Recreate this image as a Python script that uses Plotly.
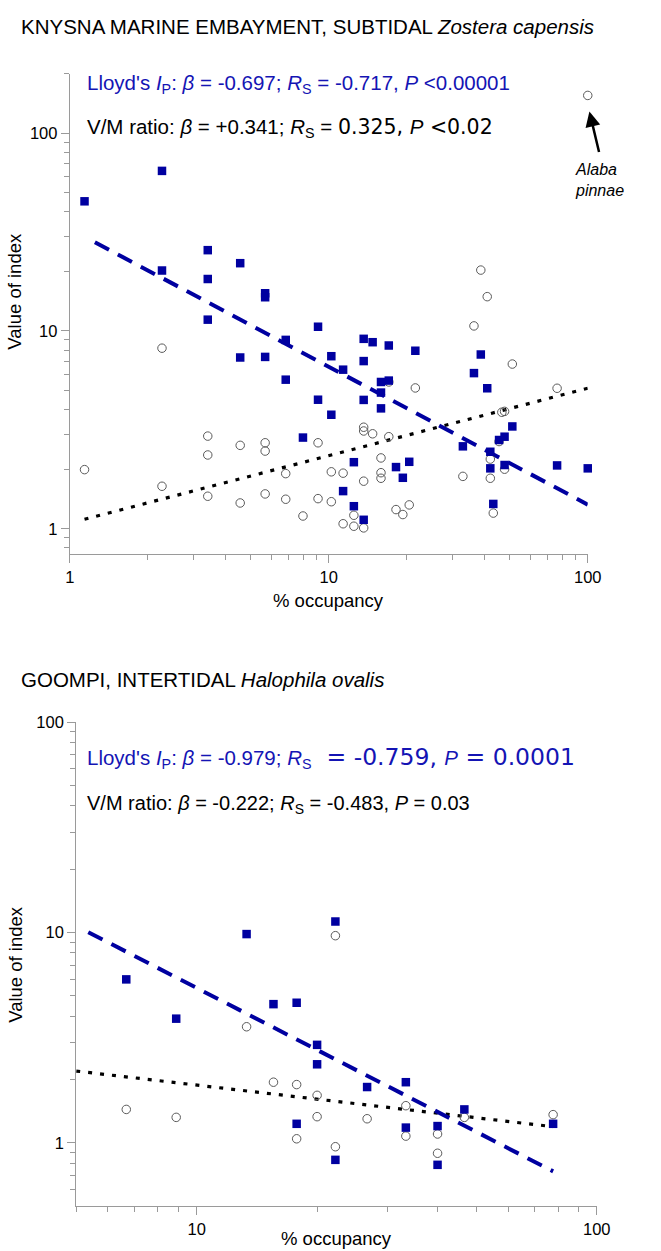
import numpy as np
import plotly.graph_objects as go

# ---------------- Knysna, subtidal Zostera capensis ----------------
kn_ip_x = [1.14, 2.27, 2.27, 3.41, 3.41, 3.41, 4.55, 4.55, 5.68, 5.68, 5.68,
           6.82, 6.82, 7.95, 9.09, 9.09, 10.23, 10.23, 11.36, 11.36, 12.5, 12.5,
           13.64, 13.64, 13.64, 13.64, 14.77, 15.91, 15.91, 15.91, 17.05, 17.05,
           18.18, 19.32, 20.45, 21.59, 32.95, 36.36, 38.64, 40.91, 42.05, 42.05,
           43.18, 45.45, 47.73, 47.73, 51.14, 76.14, 100.0]
kn_ip_y = [45.2, 64.4, 20.2, 25.6, 18.3, 11.4, 22.0, 7.34, 15.5, 14.8, 7.39,
           9.01, 5.67, 2.89, 10.5, 4.49, 7.45, 3.77, 6.37, 1.55, 2.17, 1.30,
           9.12, 7.04, 4.48, 1.11, 8.77, 5.52, 4.88, 4.06, 8.44, 5.61,
           2.05, 1.81, 2.18, 7.94, 2.61, 6.12, 7.60, 5.13, 2.45, 2.02,
           1.335, 2.81, 2.92, 2.10, 3.29, 2.09, 2.02]

kn_vm_x = [1.14, 2.27, 2.27, 3.41, 3.41, 3.41, 4.55, 4.55, 5.68, 5.68, 5.68,
           6.82, 6.82, 7.95, 9.09, 9.09, 10.23, 10.23, 11.36, 11.36, 12.5, 12.5,
           13.64, 13.64, 13.64, 13.64, 14.77, 15.91, 15.91, 15.91, 17.05, 17.05,
           18.18, 19.32, 20.45, 21.59, 32.95, 36.36, 38.64, 40.91, 42.05, 42.05,
           43.18, 45.45, 46.59, 47.73, 47.73, 51.14, 76.14, 100.0]
kn_vm_y = [1.99, 8.18, 1.64, 2.94, 2.36, 1.46, 2.64, 1.35, 2.72, 2.47, 1.50,
           1.90, 1.41, 1.16, 2.72, 1.42, 1.94, 1.37, 1.91, 1.06, 1.17, 1.03,
           3.26, 3.12, 1.74, 1.01, 3.02, 2.28, 1.92, 1.80, 2.92, 5.52,
           1.25, 1.18, 1.32, 5.15, 1.84, 10.6, 20.3, 14.9, 2.25, 1.80,
           1.20, 2.76, 3.88, 3.92, 2.00, 6.80, 5.13, 155.0]

# regression lines: log10(y) = a + beta * log10(x)
kn_ip_fit = dict(a=1.516, beta=-0.697, x=[1.25, 100.0])
kn_vm_fit = dict(a=0.0284, beta=0.341, x=[1.14, 100.0])

# ---------------- Goompi, intertidal Halophila ovalis ----------------
go_ip_x = [6.67, 8.89, 13.33, 15.56, 17.78, 17.78, 20.0, 20.0, 22.22, 22.22,
           26.67, 33.33, 33.33, 40.0, 40.0, 46.67, 77.78]
go_ip_y = [5.98, 3.89, 9.82, 4.56, 4.63, 1.23, 2.92, 2.36, 11.27, 0.829,
           1.84, 1.94, 1.18, 1.20, 0.785, 1.44, 1.23]

go_vm_x = [6.67, 8.89, 13.33, 15.56, 17.78, 17.78, 20.0, 20.0, 22.22, 22.22,
           26.67, 33.33, 33.33, 40.0, 40.0, 46.67, 77.78]
go_vm_y = [1.44, 1.32, 3.56, 1.94, 1.89, 1.044, 1.68, 1.33, 9.65, 0.957,
           1.30, 1.50, 1.075, 1.10, 0.891, 1.32, 1.36]

go_ip_fit = dict(a=1.715, beta=-0.979, x=[5.36, 77.78])
go_vm_fit = dict(a=0.496, beta=-0.222, x=[5.0, 77.78])

major_ticks = [1, 10, 100]
major_text = ["1", "10", "100"]

BLUE = "#0000a0"
TEXT_BLUE = "#1414b4"
AXIS = "#9a9a9a"
SANS = "Liberation Sans, Arial, sans-serif"

W, H = 661, 1251


def px(x):
    return x / W


def py(y):
    return 1 - y / H


def fit_line(fit):
    xs = np.array(fit["x"], dtype=float)
    ys = 10 ** (fit["a"] + fit["beta"] * np.log10(xs))
    return xs, ys


fig = go.Figure()


def add_panel(xa, ya, ip_x, ip_y, vm_x, vm_y, ip_fit, vm_fit):
    lx, ly = fit_line(vm_fit)
    fig.add_trace(go.Scatter(x=lx, y=ly, mode="lines", xaxis=xa, yaxis=ya,
                             line=dict(color="black", width=3.2, dash="4px,8px"),
                             showlegend=False, hoverinfo="skip"))
    lx, ly = fit_line(ip_fit)
    fig.add_trace(go.Scatter(x=lx, y=ly, mode="lines", xaxis=xa, yaxis=ya,
                             line=dict(color=BLUE, width=4, dash="16px,10px"),
                             showlegend=False, hoverinfo="skip"))
    fig.add_trace(go.Scatter(x=vm_x, y=vm_y, mode="markers", xaxis=xa, yaxis=ya,
                             marker=dict(symbol="circle-open", size=8.5,
                                         color="#5a5a5a", line=dict(width=1)),
                             cliponaxis=False, showlegend=False))
    fig.add_trace(go.Scatter(x=ip_x, y=ip_y, mode="markers", xaxis=xa, yaxis=ya,
                             marker=dict(symbol="square", size=8.5, color=BLUE,
                                         line=dict(width=0)),
                             cliponaxis=False, showlegend=False))


add_panel("x", "y", kn_ip_x, kn_ip_y, kn_vm_x, kn_vm_y, kn_ip_fit, kn_vm_fit)
add_panel("x2", "y2", go_ip_x, go_ip_y, go_vm_x, go_vm_y, go_ip_fit, go_vm_fit)


def axis(domain, rng, minor_vals, anchor):
    return dict(type="log", domain=domain, range=rng, anchor=anchor,
                showline=True, linecolor=AXIS, linewidth=1,
                ticks="outside", ticklen=8, tickwidth=1, tickcolor=AXIS,
                tickmode="array", tickvals=major_ticks, ticktext=major_text,
                tickfont=dict(family=SANS, size=16.5, color="black"),
                showgrid=False, zeroline=False,
                minor=dict(ticks="outside", ticklen=5, tickwidth=1,
                           tickcolor=AXIS, tickmode="array",
                           tickvals=minor_vals, showgrid=False))


dec = [2, 3, 4, 5, 6, 7, 8, 9]
dec10 = [20, 30, 40, 50, 60, 70, 80, 90]

fig.update_layout(
    width=W, height=H, margin=dict(l=0, r=0, t=0, b=0),
    paper_bgcolor="white", plot_bgcolor="white",
    xaxis=axis([px(66.7), px(600)], [0, 2], dec + dec10, "y"),
    yaxis=axis([py(549), py(65)], [np.log10(0.745), np.log10(200)],
               [0.8, 0.9] + dec + dec10 + [200], "x"),
    xaxis2=axis([px(73.3), px(609.3)], [np.log10(5), 2],
                [5, 6, 7, 8, 9] + dec10, "y2"),
    yaxis2=axis([py(1205.7), py(718.3)], [np.log10(0.5), 2],
                [0.6, 0.7, 0.8, 0.9] + dec + dec10, "x2"),
)


def note(text, x, y, size, color="black", xanchor="left", angle=0, family=SANS):
    fig.add_annotation(text=text, x=px(x), y=py(y), xref="paper", yref="paper",
                       xanchor=xanchor, yanchor="middle", showarrow=False,
                       textangle=angle, align="left",
                       font=dict(family=family, size=size, color=color))


def wide(s, size=None):
    style = "font-family:DejaVu Sans"
    if size:
        style += ";font-size:%spx" % size
    return "<span style='" + style + "'>" + s + "</span>"


# panel headings
note("KNYSNA MARINE EMBAYMENT, SUBTIDAL <i>Zostera capensis</i>", 14, 18, 20.5)
note("GOOMPI, INTERTIDAL <i>Halophila ovalis</i>", 14, 675, 20.5)

# statistics, Knysna
note("Lloyd's <i>I</i><sub>P</sub>: <i>β</i> = -0.697; <i>R</i><sub>S</sub> = -0.717, "
     "<i>P</i> &lt;0.00001", 82, 76, 20.5, TEXT_BLUE)
note("V/M ratio: <i>β</i> = +0.341; <i>R</i><sub>S</sub> = " + wide("0.325, ")
     + "<i>P</i>" + wide(" &lt;0.02"), 82, 120, 20.5)

# statistics, Goompi
note("Lloyd's <i>I</i><sub>P</sub>: <i>β</i> = -0.979; <i>R</i><sub>S</sub>"
     + wide("&nbsp; = -0.759, ", 23.5) + "<i>P</i>" + wide(" = 0.0001", 23.5),
     82, 754, 20.5, TEXT_BLUE)
note("V/M ratio: <i>β</i> = -0.222; <i>R</i><sub>S</sub> = -0.483, <i>P</i> = 0.03",
     82, 801, 20)

# outlier label
note("<i>Alaba</i><br><i>pinnae</i>", 585, 172, 16)
fig.add_annotation(text="", x=px(601.7), y=py(103.3), xref="paper", yref="paper",
                   ax=10, ay=42, showarrow=True, arrowhead=2, arrowsize=1.2,
                   arrowwidth=2.5, arrowcolor="black", standoff=0)

# axis titles
note("% occupancy", 333.3, 596, 18.5, xanchor="center")
note("% occupancy", 341.3, 1238, 18.5, xanchor="center")
note("Value of index", 10, 284, 18.5, xanchor="center", angle=-90)
note("Value of index", 10, 962, 18.5, xanchor="center", angle=-90)

fig.write_html("out.html")
